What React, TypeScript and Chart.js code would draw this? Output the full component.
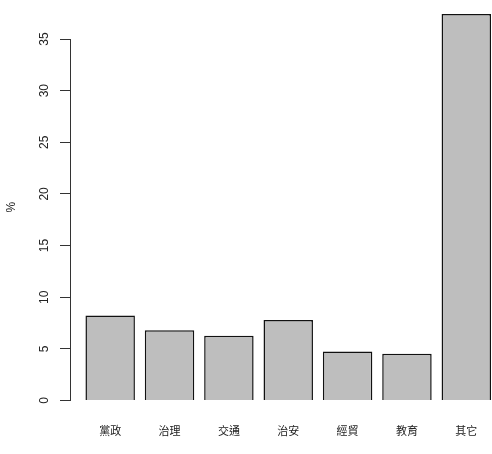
import { useEffect, useRef } from 'react';
import { Chart, registerables } from 'chart.js';

Chart.register(...registerables);

const categories = ['黨政', '治理', '交通', '治安', '經貿', '教育', '其它'];
const values = [8.24, 6.79, 6.27, 7.79, 4.75, 4.53, 37.42];
const yTickValues = [0, 5, 10, 15, 20, 25, 30, 35];
const yLabel = '%';

export default function App() {
  const ref = useRef<HTMLCanvasElement>(null);

  useEffect(() => {
    document.body.style.margin = '0';
    const ylabPlugin = {
      id: 'ylab',
      afterDraw(chart: any) {
        const { ctx, chartArea, scales } = chart;
        const y = scales.y.getPixelForValue(Math.max(...values) / 2);
        ctx.save();
        ctx.translate(chartArea.left - 58, y);
        ctx.rotate(-Math.PI / 2);
        ctx.font = '12px "Liberation Sans"';
        ctx.fillStyle = '#222';
        ctx.textAlign = 'center';
        ctx.textBaseline = 'middle';
        ctx.fillText(yLabel, 0, 0);
        ctx.restore();
      },
    };

    const chart = new Chart(ref.current as HTMLCanvasElement, {
      type: 'bar',
      data: {
        datasets: [
          {
            data: values.map((v, i) => ({ x: i, y: v })),
            backgroundColor: '#bebebe',
            borderColor: '#111',
            borderWidth: 1.5,
            categoryPercentage: 1,
            barPercentage: 1 / 1.2,
            clip: false as any,
          } as any,
        ],
      },
      options: {
        animation: false,
        responsive: false,
        layout: { padding: { top: 39, left: 0, right: 0, bottom: 0 } },
        plugins: { legend: { display: false }, tooltip: { enabled: false } },
        scales: {
          x: {
            type: 'linear',
            offset: false,
            min: -0.677,
            max: 6.433,
            grid: { display: false, offset: false, drawTicks: true, tickLength: 24 },
            border: { display: false },
            afterBuildTicks: (s: any) => {
              s.ticks = categories.map((_, i) => ({ value: i }));
            },
            afterFit: (s: any) => {
              s.height = 53.5;
              s.paddingLeft = 0;
              s.paddingRight = 0;
            },
            ticks: {
              padding: 0,
              autoSkip: false,
              maxRotation: 0,
              minRotation: 0,
              callback: (v: any) => categories[v as number] ?? '',
              font: { family: '"Noto Sans CJK TC"', size: 11 },
              color: '#222',
            },
          },
          y: {
            min: 0,
            max: 35,
            afterBuildTicks: (s: any) => {
              s.ticks = yTickValues.map((v) => ({ value: v }));
            },
            afterFit: (s: any) => {
              s.width = 70;
              s.paddingTop = 0;
              s.paddingBottom = 0;
            },
            grid: { drawOnChartArea: false, drawTicks: true, tickLength: 10, color: '#333', lineWidth: 1 },
            border: { display: true, color: '#333', width: 1 },
            ticks: {
              minRotation: 90,
              maxRotation: 90,
              crossAlign: 'center',
              padding: 9,
              font: { family: '"Liberation Sans"', size: 12 },
              color: '#222',
            },
          },
        },
      },
      plugins: [ylabPlugin],
    });
    return () => chart.destroy();
  }, []);

  return <canvas ref={ref} width={492} height={454} style={{ display: 'block' }} />;
}
